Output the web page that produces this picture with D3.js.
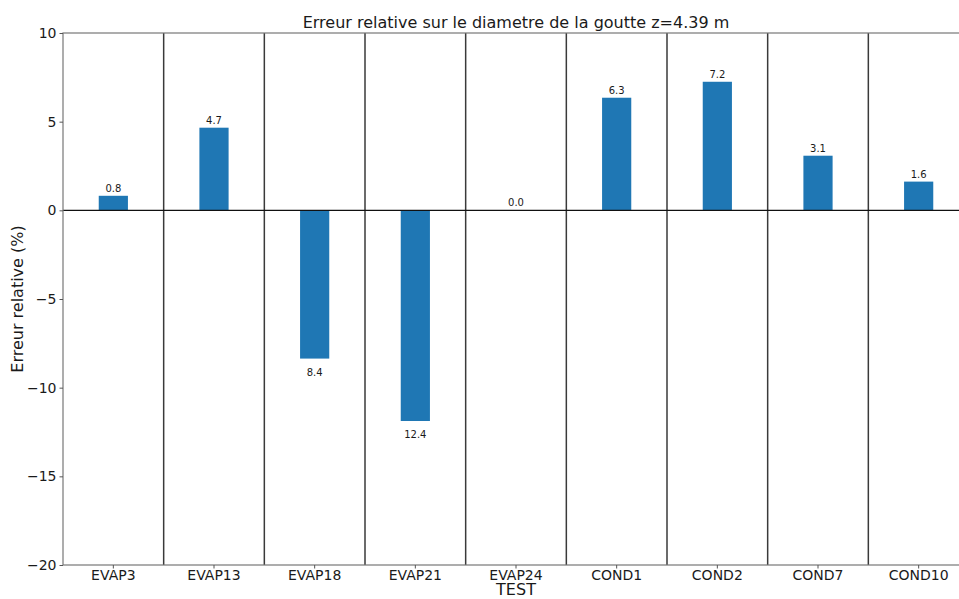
<!DOCTYPE html>
<html>
<head>
<meta charset="utf-8">
<script src="https://cdn.jsdelivr.net/npm/d3@7"></script>
<style>
  body { margin: 0; background: #fff; overflow: hidden; }
  text { font-family: "DejaVu Sans", sans-serif; fill: #1a1a1a; }
</style>
</head>
<body>
<div id="chart"></div>
<script>
// tests and measured relative error (%)
var tests = ["EVAP3", "EVAP13", "EVAP18", "EVAP21", "EVAP24", "COND1", "COND2", "COND7", "COND10"];
var errors = [0.82, 4.66, -8.36, -11.88, 0.0, 6.35, 7.25, 3.08, 1.62];
// annotations printed on the bars (as in the original figure)
var barLabels = ["0.8", "4.7", "8.4", "12.4", "0.0", "6.3", "7.2", "3.1", "1.6"];
var yTicks = [10, 5, 0, -5, -10, -15, -20];

var margin = {top: 33, left: 63};
var plotW = 906, plotH = 532;

var svg = d3.select("#chart").append("svg")
    .attr("width", 959)
    .attr("height", 599)
    .style("display", "block");

var g = svg.append("g")
    .attr("transform", "translate(" + margin.left + "," + margin.top + ")");

var x = d3.scaleBand()
    .domain(tests)
    .range([0, plotW])
    .paddingInner(0)
    .paddingOuter(0);

var y = d3.scaleLinear()
    .domain([-20, 10])
    .range([plotH, 0]);

var barW = x.bandwidth() * 0.29;

// bars
g.selectAll("rect.bar")
    .data(errors)
    .enter().append("rect")
    .attr("class", "bar")
    .attr("x", function(d, i){ return x(tests[i]) + x.bandwidth()/2 - barW/2; })
    .attr("y", function(d){ return y(Math.max(0, d)); })
    .attr("width", barW)
    .attr("height", function(d){ return Math.abs(y(d) - y(0)); })
    .attr("fill", "#1f77b4");

// bar labels
g.selectAll("text.lbl")
    .data(errors)
    .enter().append("text")
    .attr("class", "lbl")
    .attr("x", function(d, i){ return x(tests[i]) + x.bandwidth()/2; })
    .attr("y", function(d){ return d >= 0 ? y(d) - 4 : y(d) + 17; })
    .attr("text-anchor", "middle")
    .style("font-size", "10px")
    .text(function(d, i){ return barLabels[i]; });

// separators between tests
g.selectAll("line.sep")
    .data(tests.slice(1))
    .enter().append("line")
    .attr("class", "sep")
    .attr("x1", function(d){ return x(d); })
    .attr("x2", function(d){ return x(d); })
    .attr("y1", 0)
    .attr("y2", plotH)
    .attr("stroke", "#3a3a3a")
    .attr("stroke-width", 1.5);

// zero line
g.append("line")
    .attr("x1", 0).attr("x2", plotW)
    .attr("y1", y(0)).attr("y2", y(0))
    .attr("stroke", "#111")
    .attr("stroke-width", 1.3);

// frame
g.append("rect")
    .attr("x", 0).attr("y", 0)
    .attr("width", plotW).attr("height", plotH)
    .attr("fill", "none")
    .attr("stroke", "#777")
    .attr("stroke-width", 1.2);

// axes
var yAxis = d3.axisLeft(y)
    .tickValues(yTicks)
    .tickSize(3.5)
    .tickPadding(3)
    .tickFormat(function(d){ return d < 0 ? "\u2212" + Math.abs(d) : d; });

var gy = g.append("g").call(yAxis);
gy.select(".domain").remove();
gy.selectAll(".tick line").attr("stroke", "#555");
gy.selectAll("text").style("font-size", "14px").attr("fill", "#1a1a1a");

var xAxis = d3.axisBottom(x).tickSize(3.5).tickPadding(2);
var gx = g.append("g")
    .attr("transform", "translate(0," + plotH + ")")
    .call(xAxis);
gx.select(".domain").remove();
gx.selectAll(".tick line").attr("stroke", "#555");
gx.selectAll("text").style("font-size", "14px").attr("fill", "#1a1a1a");

// title and axis titles
svg.append("text")
    .attr("x", margin.left + plotW/2)
    .attr("y", 28)
    .attr("text-anchor", "middle")
    .style("font-size", "16px")
    .text("Erreur relative sur le diametre de la goutte z=4.39 m");

svg.append("text")
    .attr("x", margin.left + plotW/2)
    .attr("y", 595)
    .attr("text-anchor", "middle")
    .style("font-size", "16px")
    .text("TEST");

svg.append("text")
    .attr("transform", "translate(23," + (margin.top + plotH/2) + ") rotate(-90)")
    .attr("text-anchor", "middle")
    .style("font-size", "16px")
    .text("Erreur relative (%)");
</script>
</body>
</html>
